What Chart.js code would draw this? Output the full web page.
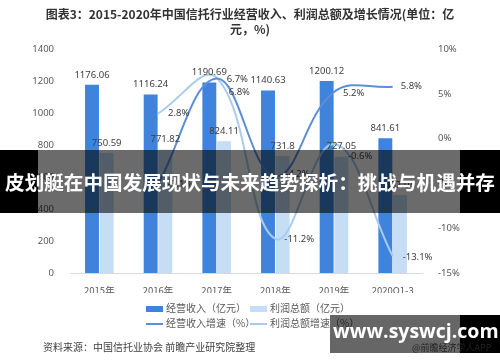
<!DOCTYPE html>
<html>
<head>
<meta charset="utf-8">
<script src="https://cdn.jsdelivr.net/npm/chart.js@4"></script>
<style>
  html,body{margin:0;padding:0;background:#fff;}
  #wrap{position:relative;width:500px;height:362px;overflow:hidden;font-family:"Noto Sans CJK SC","Noto Sans",sans-serif;}
  canvas{position:absolute;left:0;top:0;}
  .title{position:absolute;left:0;width:500px;top:6px;text-align:center;font-weight:bold;font-size:12px;line-height:15px;color:#333;}
  .legend{position:absolute;font-size:10px;color:#595959;white-space:nowrap;}
  .sw{display:inline-block;width:17px;vertical-align:middle;margin-right:3px;}
  .src{position:absolute;left:43px;top:339px;font-size:10px;color:#404040;}
  .banner{position:absolute;left:0;top:150px;width:500px;height:63px;background:rgba(0,0,0,0.58);}
  .banner .bl{position:absolute;left:0;top:0;width:38px;height:63px;background:#000;}
  .banner .br{position:absolute;right:0;top:0;width:40px;height:63px;background:#000;}
  .banner .tx{position:absolute;left:0;width:500px;top:18px;text-align:center;color:#fff;font-weight:bold;font-size:19.6px;line-height:28px;}
  .wm{position:absolute;left:330px;top:315px;width:170px;height:38px;background:rgba(0,0,0,0.6);}
  .wm .br{position:absolute;right:0;top:0;width:40px;height:38px;background:#000;}
  .wm .tx{position:absolute;left:3px;top:2px;color:#fff;font-weight:bold;font-size:19.5px;line-height:28px;font-family:"Open Sans","DejaVu Sans",sans-serif;}
  .wm .sub{position:absolute;left:82px;top:27px;color:#222;font-size:9px;line-height:11px;}
</style>
</head>
<body>
<div id="wrap">
  <canvas id="c" width="500" height="362"></canvas>
  <div class="title">图表3：2015-2020年中国信托行业经营收入、利润总额及增长情况(单位：亿<br>元，%)</div>
  <div class="legend" style="left:146px;top:300px;"><span class="sw" style="height:6px;background:#3f83dc;"></span>经营收入（亿元）</div>
  <div class="legend" style="left:250px;top:300px;"><span class="sw" style="height:6px;background:#c6ddf6;"></span>利润总额（亿元）</div>
  <div class="legend" style="left:146px;top:315px;"><span class="sw" style="height:2px;background:#5b8fd6;"></span>经营收入增速（%）</div>
  <div class="legend" style="left:250px;top:315px;"><span class="sw" style="height:2px;background:#a8cbef;"></span>利润总额增速（%）</div>
  <div class="src">资料来源：中国信托业协会 前瞻产业研究院整理</div>
  <div class="banner"><div class="bl"></div><div class="br"></div><div class="tx">皮划艇在中国发展现状与未来趋势探析：挑战与机遇并存</div></div>
  <div class="wm"><div class="br"></div><div class="sub">@前瞻经济学人APP</div><div class="tx">www.syswcj.com</div></div>
</div>
<script>
// --- data
const years = ['2015年','2016年','2017年','2018年','2019年','2020Q1-3'];
const revenue = [1176.06, 1116.24, 1190.69, 1140.63, 1200.12, 841.61];
const profit = [750.59, 771.82, 824.11, 731.8, 727.05, 487.04];
const revenueGrowth = [null, -5.1, 6.7, -4.2, 5.2, 5.8];
const profitGrowth = [null, 2.8, 6.8, -11.2, -0.6, -13.1];
const leftTicks = [0, 200, 400, 600, 800, 1000, 1200, 1400];
const rightTicks = [-15, -10, -5, 0, 5, 10];

// label offsets for the growth lines (style only)
const revLabelOff = [null, [10,0], [10,1], [10,-2], [9,1], [8,0]];
const profLabelOff = [null, [10,0], [12,15], [9,0], [14,12], [10,1]];

const valueLabels = {
  id: 'valueLabels',
  afterDatasetsDraw(chart){
    const c = chart.ctx;
    c.save();
    c.font = '9.5px "Noto Sans", sans-serif';
    c.fillStyle = '#404040';
    // bar labels
    [0,1].forEach(di => {
      const meta = chart.getDatasetMeta(di);
      c.textAlign = 'center'; c.textBaseline = 'middle';
      meta.data.forEach((el, i) => {
        c.fillText(String(chart.data.datasets[di].data[i]), el.x, el.y - 10);
      });
    });
    // line labels
    [[2, revLabelOff], [3, profLabelOff]].forEach(([di, offs]) => {
      const meta = chart.getDatasetMeta(di);
      c.textAlign = 'left'; c.textBaseline = 'middle';
      meta.data.forEach((el, i) => {
        const v = chart.data.datasets[di].data[i];
        if (v === null) return;
        c.fillText(v.toFixed(1) + '%', el.x + offs[i][0], el.y + offs[i][1]);
      });
    });
    c.restore();
  }
};

new Chart(document.getElementById('c'), {
  data: {
    labels: years,
    datasets: [
      { type:'bar', label:'经营收入（亿元）', data: revenue, backgroundColor:'#3f83dc', yAxisID:'y', order:2,
        categoryPercentage:0.5, barPercentage:0.95 },
      { type:'bar', label:'利润总额（亿元）', data: profit, backgroundColor:'#c6ddf6', yAxisID:'y', order:2,
        categoryPercentage:0.5, barPercentage:0.95 },
      { type:'line', label:'经营收入增速（%）', data: revenueGrowth, borderColor:'#5b8fd6', borderWidth:2,
        pointRadius:0, tension:0.4, yAxisID:'y1', order:0 },
      { type:'line', label:'利润总额增速（%）', data: profitGrowth, borderColor:'#a8cbef', borderWidth:2,
        pointRadius:0, tension:0.4, yAxisID:'y1', order:1 }
    ]
  },
  options: {
    responsive:false, animation:false,
    layout:{ padding:{ top:49, bottom:69, left:0, right:0 } },
    plugins:{ legend:{ display:false }, tooltip:{ enabled:false } },
    scales:{
      x:{
        grid:{ display:false }, border:{ color:'#d9d9d9' },
        ticks:{ color:'#595959', font:{ size:9.5, family:'"Noto Sans CJK SC", sans-serif' }, padding:4, maxRotation:0 },
        afterFit(s){ s.height = 20; }
      },
      y:{
        position:'left', min:0, max:1400,
        grid:{ display:false }, border:{ display:false },
        afterBuildTicks(s){ s.ticks = leftTicks.map(v => ({value:v})); },
        ticks:{ color:'#595959', font:{ size:9.5, family:'"Noto Sans", sans-serif' }, padding:8, callback:v => String(v) },
        afterFit(s){ s.width = 70; }
      },
      y1:{
        position:'right', min:-15, max:10,
        grid:{ display:false }, border:{ display:false },
        afterBuildTicks(s){ s.ticks = rightTicks.map(v => ({value:v})); },
        ticks:{ color:'#595959', font:{ size:9.5, family:'"Noto Sans", sans-serif' }, padding:8, callback:v => v + '%' },
        afterFit(s){ s.width = 78; }
      }
    }
  },
  plugins:[valueLabels]
});
</script>
</body>
</html>
